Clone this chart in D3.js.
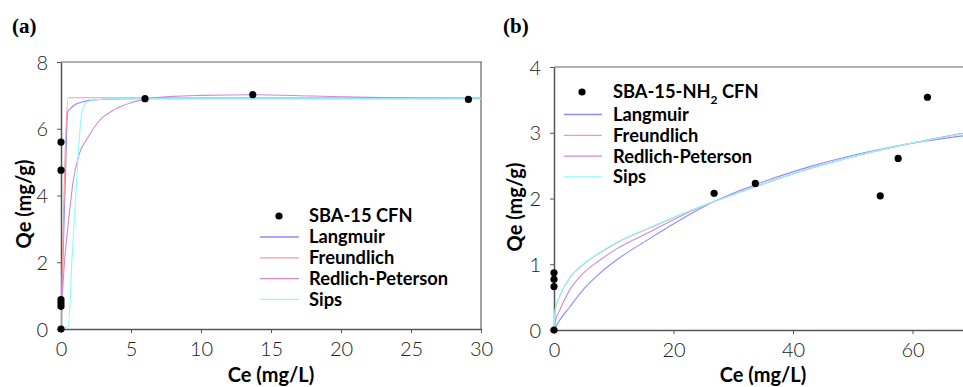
<!DOCTYPE html>
<html><head><meta charset="utf-8">
<script src="https://cdn.jsdelivr.net/npm/d3@7"></script>
<style>
body{margin:0;background:#fff;}
svg{display:block;}
</style></head>
<body><svg id="c" width="963" height="387"></svg>
<script>
// ---------- Panel (a) data ----------
const aPointsCe = [0, 0, 0, 0, 0, 0, 6.0, 13.7, 29.1];
const aPointsQe = [0, 0.68, 0.78, 0.88, 4.76, 5.6, 6.9, 7.02, 6.88];
const aLangCe = [0, 0.15, 0.3, 0.48, 0.7, 1.0, 1.5, 2.0, 3, 5, 10, 20, 32];
const aLangQe = [0, 2.2, 4.3, 6.5, 6.62, 6.72, 6.8, 6.85, 6.88, 6.9, 6.9, 6.9, 6.9];
const aFreuCe = [0, 0.52, 1, 5, 10, 20, 32];
const aFreuQe = [0, 6.93, 6.93, 6.93, 6.93, 6.93, 6.93];
const aRPCe = [0, 0.1, 0.25, 0.52, 0.88, 1.24, 1.95, 2.67, 3.86, 5.0, 6.0, 8.0, 10, 13.8, 18, 22, 26, 32];
const aRPQe = [0, 1.0, 2.0, 3.16, 4.46, 5.16, 5.76, 6.21, 6.58, 6.78, 6.88, 6.97, 7.0, 7.02, 6.98, 6.94, 6.92, 6.9];
const aSipsCe = [0, 0.52, 0.8, 1.12, 1.48, 1.83, 2.5, 4, 10, 20, 32];
const aSipsQe = [0, 0.08, 2.2, 4.46, 6.46, 6.8, 6.87, 6.9, 6.9, 6.9, 6.9];
const aXTicks = [0, 5, 10, 15, 20, 25, 30];
const aYTicks = [0, 2, 4, 6, 8];

// ---------- Panel (b) data ----------
const bPointsCe = [0, 0, 0, 0, 26.8, 33.7, 54.6, 57.6, 62.5];
const bPointsQe = [0, 0.66, 0.77, 0.87, 2.08, 2.23, 2.04, 2.61, 3.54];
const bLangCe = [0, 0.96, 2.63, 4.86, 7.65, 10.4, 16, 21.6, 26.7, 33.7, 43.4, 54.6, 62, 70];
const bLangQe = [0, 0.15, 0.35, 0.61, 0.86, 1.06, 1.39, 1.70, 1.95, 2.21, 2.50, 2.75, 2.87, 2.97];
const bFitCe = [0, 0.2, 0.96, 2.63, 4.86, 7.65, 10.4, 16, 21.6, 26.7, 33.7, 43.4, 54.6, 62, 70];
const bFreuQe = [0, 0.30, 0.51, 0.79, 0.99, 1.17, 1.32, 1.55, 1.77, 1.95, 2.18, 2.47, 2.74, 2.88, 3.02];
const bRPQe = [0, 0.12, 0.30, 0.61, 0.86, 1.06, 1.23, 1.49, 1.75, 1.95, 2.18, 2.47, 2.74, 2.88, 3.02];
const bSipsQe = [0, 0.32, 0.52, 0.80, 1.00, 1.18, 1.33, 1.56, 1.77, 1.95, 2.18, 2.47, 2.74, 2.88, 3.01];
const bXTicks = [0, 20, 40, 60];
const bYTicks = [0, 1, 2, 3, 4];

const seriesNames = ["Langmuir", "Freundlich", "Redlich-Peterson", "Sips"];
const seriesColors = ["#8c8cff", "#ff9a9a", "#d08ad0", "#88ffff"];

const svg = d3.select("#c");
const FONT = '"Lato","Open Sans",sans-serif';

function panel(cfg) {
  const x = d3.scaleLinear().domain(cfg.xDomain).range([cfg.left, cfg.right]);
  const y = d3.scaleLinear().domain(cfg.yDomain).range([cfg.bottom, cfg.top]);
  const g = svg.append("g");
  const clipId = "clip" + cfg.id;
  svg.append("clipPath").attr("id", clipId).append("rect")
    .attr("x", cfg.left).attr("y", cfg.top)
    .attr("width", Math.min(cfg.right, 963) - cfg.left).attr("height", cfg.bottom - cfg.top);

  // frame top/right
  g.append("line").attr("x1", cfg.left).attr("x2", Math.min(cfg.right, 963) + 1)
    .attr("y1", cfg.top).attr("y2", cfg.top).attr("stroke", "#666").attr("stroke-width", 1.2);
  if (cfg.right < 963) {
    g.append("line").attr("x1", cfg.right).attr("x2", cfg.right)
      .attr("y1", cfg.top).attr("y2", cfg.bottom).attr("stroke", "#666").attr("stroke-width", 1.2);
  }

  const fmt = d3.format("d");
  const xa = g.append("g").attr("transform", `translate(0,${cfg.bottom})`)
    .call(d3.axisBottom(x).tickValues(cfg.xTicks).tickFormat(fmt).tickSize(4).tickSizeOuter(0).tickPadding(6));
  const ya = g.append("g").attr("transform", `translate(${cfg.left},0)`)
    .call(d3.axisLeft(y).tickValues(cfg.yTicks).tickFormat(fmt).tickSize(4).tickSizeOuter(0).tickPadding(9));
  [xa, ya].forEach(a => {
    a.select(".domain").attr("stroke", "#555").attr("stroke-width", 1.5);
    a.selectAll(".tick line").attr("stroke", "#555");
    a.selectAll(".tick text").attr("font-size", 20).attr("font-family", FONT)
      .attr("font-weight", 300).attr("fill", "#222");
  });
  xa.selectAll(".tick text").attr("dy", "0.85em");
  ya.selectAll(".tick text").attr("dy", "0.36em");

  const line = d3.line().x(d => x(d[0])).y(d => y(d[1])).curve(d3.curveMonotoneX);
  const cg = g.append("g").attr("clip-path", `url(#${clipId})`);
  cfg.curves.forEach((c, i) => {
    const pts = c.ce.map((v, k) => [v, c.qe[k]]);
    cg.append("path").attr("d", line(pts)).attr("fill", "none")
      .attr("stroke", seriesColors[i]).attr("stroke-width", 1.1);
  });

  g.selectAll("circle.pt").data(cfg.pCe.map((v, k) => [v, cfg.pQe[k]])).enter()
    .append("circle").attr("class", "pt")
    .attr("cx", d => x(d[0])).attr("cy", d => y(d[1])).attr("r", 3.6).attr("fill", "#000");

  // legend
  const L = cfg.legend;
  const lg = g.append("g").attr("font-family", FONT).attr("font-weight", 700).attr("font-size", 18.3);
  lg.append("circle").attr("cx", L.dotX).attr("cy", L.titleY).attr("r", 3.6).attr("fill", "#000");
  const tt = lg.append("text").attr("x", L.textX).attr("y", L.titleY).attr("dy", "0.35em").attr("fill", "#000");
  tt.append("tspan").text(cfg.title[0]);
  if (cfg.title.length > 1) {
    tt.append("tspan").attr("font-size", 12).attr("dy", "0.45em").text(cfg.title[1]);
    tt.append("tspan").attr("dy", "-0.3em").text(cfg.title[2]);
  }
  seriesNames.forEach((n, i) => {
    const yy = L.rowY0 + i * L.rowH;
    lg.append("line").attr("x1", L.lineX1).attr("x2", L.lineX2).attr("y1", yy).attr("y2", yy)
      .attr("stroke", seriesColors[i]).attr("stroke-width", 1.3);
    lg.append("text").attr("x", L.textX).attr("y", yy).attr("dy", "0.35em").attr("fill", "#000").text(n);
  });

  // axis titles
  g.append("text").attr("x", cfg.xTitleX).attr("y", 382).attr("text-anchor", "middle")
    .attr("font-family", FONT).attr("font-weight", 700).attr("font-size", 20).text("Ce (mg/L)");
  g.append("text").attr("transform", `translate(${cfg.yTitleX},${cfg.yTitleY}) rotate(-90)`)
    .attr("text-anchor", "middle").attr("font-family", FONT).attr("font-weight", 700)
    .attr("font-size", 20).text("Qe (mg/g)");
  // panel label
  g.append("text").attr("x", cfg.labelX).attr("y", 33)
    .attr("font-family", '"Liberation Serif","Times New Roman",serif').attr("font-weight", 700)
    .attr("font-size", 21).text(cfg.label);
}

panel({
  id: "a", label: "(a)", labelX: 12,
  xDomain: [0, 30], yDomain: [0, 8], left: 61, right: 481, top: 62, bottom: 329,
  xTicks: aXTicks, yTicks: aYTicks,
  pCe: aPointsCe, pQe: aPointsQe,
  curves: [
    {ce: aLangCe, qe: aLangQe}, {ce: aFreuCe, qe: aFreuQe},
    {ce: aRPCe, qe: aRPQe}, {ce: aSipsCe, qe: aSipsQe}
  ],
  title: ["SBA-15 CFN"],
  legend: {dotX: 279, textX: 309, lineX1: 260, lineX2: 299, titleY: 216, rowY0: 237, rowH: 20.8},
  xTitleX: 271, yTitleX: 31, yTitleY: 204
});

panel({
  id: "b", label: "(b)", labelX: 503,
  xDomain: [0, 70], yDomain: [0, 4], left: 554, right: 554 + 70 * 5.975, top: 67, bottom: 330,
  xTicks: bXTicks, yTicks: bYTicks,
  pCe: bPointsCe, pQe: bPointsQe,
  curves: [
    {ce: bLangCe, qe: bLangQe}, {ce: bFitCe, qe: bFreuQe},
    {ce: bFitCe, qe: bRPQe}, {ce: bFitCe, qe: bSipsQe}
  ],
  title: ["SBA-15-NH", "2", " CFN"],
  legend: {dotX: 582, textX: 613, lineX1: 564, lineX2: 602, titleY: 92, rowY0: 114.5, rowH: 20.8},
  xTitleX: 763, yTitleX: 522, yTitleY: 207
});
</script></body></html>
